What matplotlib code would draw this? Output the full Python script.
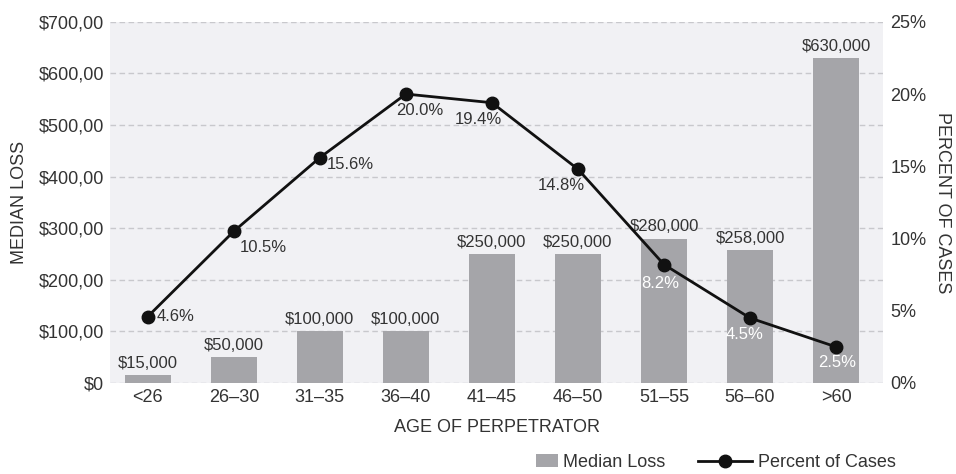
import matplotlib.pyplot as plt
from matplotlib.patches import Patch
from matplotlib.lines import Line2D

plt.rcParams['font.family'] = ['Liberation Sans', 'DejaVu Sans']

# datos
edades = ['<26', '26–30', '31–35', '36–40', '41–45', '46–50', '51–55', '56–60', '>60']
perdida = [15000, 50000, 100000, 100000, 250000, 250000, 280000, 258000, 630000]
porcentaje = [4.6, 10.5, 15.6, 20.0, 19.4, 14.8, 8.2, 4.5, 2.5]
ticks_izq = ['$0', '$100,00', '$200,00', '$300,00', '$400,00', '$500,00', '$600,00', '$700,00']
ticks_der = ['0%', '5%', '10%', '15%', '20%', '25%']

# desplazamiento de cada etiqueta de porcentaje (pt), alineacion y color
off_pct = [(6, 0, 'left'), (4, -12, 'left'), (5, -5, 'left'), (10, -12, 'center'),
           (-10, -12, 'center'), (-12, -12, 'center'), (-3, -14, 'center'),
           (-4, -12, 'center'), (1, -11, 'center')]
color_pct = ['#333333'] * 6 + ['white'] * 3

gris_txt = '#333333'
fig = plt.figure(figsize=(9.56, 4.74), dpi=100)
ax = fig.add_axes([0.115, 0.192, 0.809, 0.762])
ax.set_facecolor('#f1f1f4')
for s in ax.spines.values():
    s.set_visible(False)

x = list(range(len(edades)))
miles = [v / 1000 for v in perdida]
ax.bar(x, miles, width=0.54, color='#a5a5a9', zorder=2)
for xi, v, m in zip(x, perdida, miles):
    ax.annotate('${:,}'.format(v), (xi, m), xytext=(0, 3), textcoords='offset points',
                ha='center', va='bottom', fontsize=12, color=gris_txt)

ax.set_xlim(-0.44, 8.55)
ax.set_ylim(0, 700)
ax.set_yticks(range(0, 701, 100))
ax.set_yticklabels(ticks_izq)
ax.set_xticks(x)
ax.set_xticklabels(edades)
ax.tick_params(length=0, labelsize=13, colors=gris_txt, pad=4)
ax.set_axisbelow(True)
ax.yaxis.grid(True, linestyle=(0, (4, 2.5)), color='#c8c8cc', linewidth=1)
ax.set_xlabel('AGE OF PERPETRATOR', fontsize=13, color=gris_txt, labelpad=10)
ax.set_ylabel('MEDIAN LOSS', fontsize=13, color=gris_txt, labelpad=8)

ax2 = ax.twinx()
for s in ax2.spines.values():
    s.set_visible(False)
ax2.set_ylim(0, 25)
ax2.set_yticks(range(0, 26, 5))
ax2.set_yticklabels(ticks_der)
ax2.tick_params(length=0, labelsize=13, colors=gris_txt, pad=5)
ax2.set_ylabel('PERCENT OF CASES', fontsize=13, color=gris_txt, rotation=-90,
               labelpad=18)
ax2.plot(x, porcentaje, color='#111111', linewidth=2, marker='o', markersize=9,
         zorder=3)
for xi, p, (dx, dy, ha), c in zip(x, porcentaje, off_pct, color_pct):
    ax2.annotate('{:.1f}%'.format(p), (xi, p), xytext=(dx, dy), textcoords='offset points',
                 ha=ha, va='center', fontsize=12, color=c)

# leyenda en dos partes para tener largos de simbolo distintos
h1 = Patch(facecolor='#a5a5a9', edgecolor='none')
h2 = Line2D([], [], color='#111111', linewidth=2, marker='o', markersize=9)
fig.legend([h1], ['Median Loss'], loc='center left', bbox_to_anchor=(0.5515, 0.024),
           frameon=False, fontsize=13, handlelength=1.2, handleheight=0.75,
           handletextpad=0.3, borderpad=0, labelcolor=gris_txt)
fig.legend([h2], ['Percent of Cases'], loc='center left', bbox_to_anchor=(0.7205, 0.024),
           frameon=False, fontsize=13, handlelength=3.0, handletextpad=0.35,
           borderpad=0, labelcolor=gris_txt)

fig.savefig('out.png', dpi=100)
